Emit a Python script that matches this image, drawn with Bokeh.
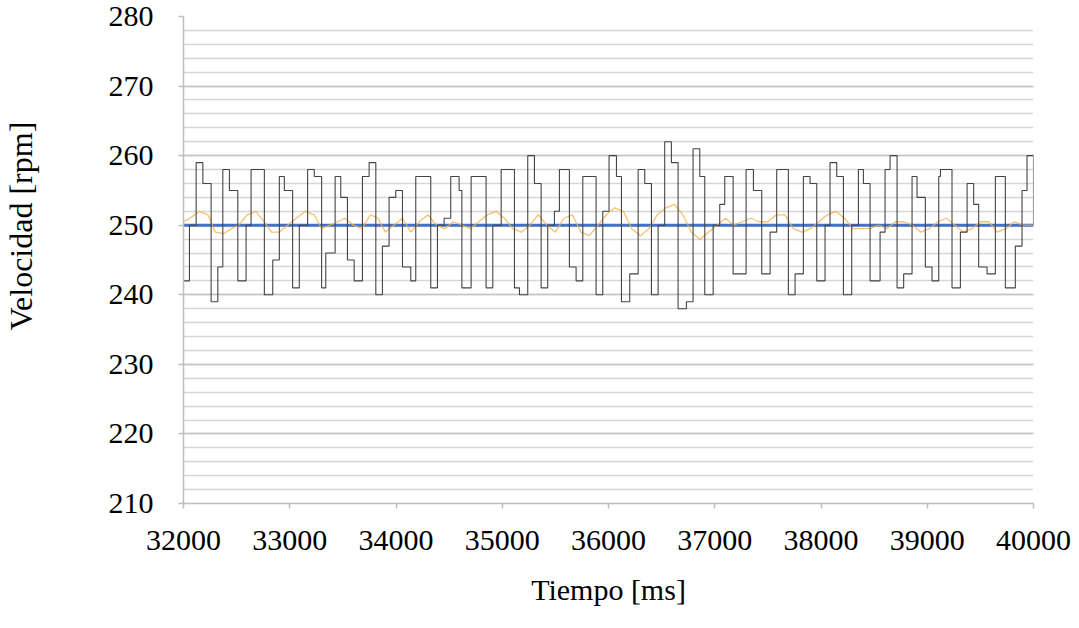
from bokeh.plotting import figure
from bokeh.models import Range1d, SingleIntervalTicker, Title
from bokeh.embed import file_html
from bokeh.resources import INLINE

# Measured speed: step changes (time in ms, rpm held until the next change)
black_t = [32000, 32056, 32119, 32182, 32260, 32323, 32370, 32432, 32511, 32589,
           32636, 32761, 32840, 32902, 32949, 33027, 33090, 33168, 33231, 33300,
           33339, 33427, 33480, 33543, 33606, 33684, 33747, 33810, 33872, 33935,
           33998, 34061, 34139, 34186, 34327, 34390, 34453, 34515, 34594, 34620,
           34707, 34848, 34911, 34990, 35115, 35162, 35240, 35303, 35366, 35428,
           35491, 35538, 35632, 35695, 35758, 35883, 35946, 36005, 36075, 36122,
           36200, 36279, 36341, 36404, 36467, 36529, 36592, 36655, 36733, 36796,
           36859, 36906, 36985, 37047, 37094, 37173, 37295, 37364, 37442, 37521,
           37583, 37693, 37756, 37834, 37897, 37960, 38038, 38085, 38148, 38211,
           38289, 38352, 38399, 38462, 38556, 38603, 38650, 38716, 38778, 38857,
           38904, 38982, 39045, 39108, 39124, 39233, 39312, 39375, 39437, 39484,
           39563, 39641, 39735, 39829, 39892, 39939, 40000]
black_v = [242, 250, 259, 256, 239, 244, 258, 255, 242, 250,
           258, 240, 245, 257, 255, 241, 250, 258, 257, 241,
           246, 257, 254, 245, 242, 257, 259, 240, 247, 254,
           255, 244, 242, 257, 241, 250, 251, 257, 255, 241,
           257, 241, 250, 258, 241, 240, 260, 256, 241, 250,
           252, 258, 244, 242, 257, 240, 252, 260, 257, 239,
           243, 258, 256, 240, 250, 262, 259, 238, 239, 261,
           257, 240, 250, 253, 257, 243, 258, 255, 243, 249,
           258, 240, 243, 257, 256, 242, 250, 259, 257, 240,
           250, 258, 256, 242, 249, 258, 260, 241, 243, 257,
           254, 244, 242, 257, 258, 241, 249, 256, 253, 244,
           243, 257, 241, 247, 255, 260, 250]

# Filtered speed estimate
orange_t = [32000, 32060, 32150, 32230, 32300, 32380, 32450, 32520, 32600, 32680,
            32760, 32830, 32900, 32980, 33060, 33150, 33230, 33300, 33380, 33450,
            33520, 33600, 33680, 33760, 33830, 33900, 33980, 34060, 34140, 34220,
            34300, 34380, 34460, 34540, 34620, 34700, 34780, 34860, 34940, 35020,
            35100, 35180, 35260, 35340, 35420, 35500, 35580, 35660, 35740, 35820,
            35900, 35980, 36060, 36140, 36220, 36300, 36380, 36460, 36540, 36620,
            36700, 36780, 36860, 36940, 37020, 37100, 37180, 37260, 37340, 37420,
            37500, 37580, 37660, 37740, 37820, 37900, 37980, 38060, 38140, 38220,
            38300, 38380, 38460, 38540, 38620, 38700, 38780, 38860, 38940, 39020,
            39100, 39180, 39260, 39340, 39420, 39500, 39580, 39660, 39740, 39820,
            39900, 40000]
orange_v = [250.5, 251, 252, 251.5, 249, 248.8, 249.5, 250, 251.5, 252,
            250.5, 249, 249, 250, 251, 252, 251.5, 249.5, 250, 250.5,
            251, 250, 249.5, 251.5, 251, 249, 250, 251, 249, 250.5,
            251.5, 250, 249.5, 250.5, 250, 249.5, 250.5, 251.5, 252, 251,
            249.5, 249, 250, 251.5, 250, 249, 251, 251.5, 249, 248.5,
            250, 251.5, 252.5, 252, 249.5, 248.5, 249.5, 251.5, 252.5, 253,
            251.5, 249, 248, 249, 250, 251, 250, 250.5, 251, 250.5,
            250.5, 251.5, 251.5, 249.5, 249, 249.5, 250.5, 251.5, 252, 251,
            249.5, 249.5, 249.5, 250, 249.5, 250.5, 250.5, 250, 249, 249.5,
            250.5, 251, 250, 249, 249.5, 250.5, 250.5, 249, 249.5, 250.5,
            250, 250]

# Reference speed
setpoint_t = [32000, 40000]
setpoint_v = [250, 250]

FONT = "Liberation Serif"

p = figure(width=1079, height=628, output_backend="svg", toolbar_location=None,
           x_range=Range1d(32000, 40000), y_range=Range1d(210, 280),
           min_border_left=183, min_border_right=46, min_border_top=16,
           min_border_bottom=125)
p.outline_line_color = None
p.background_fill_color = "white"
p.border_fill_color = "white"

p.yaxis.ticker = SingleIntervalTicker(interval=10, num_minor_ticks=5)
p.xaxis.ticker = SingleIntervalTicker(interval=1000, num_minor_ticks=0)

p.xgrid.grid_line_color = None
p.ygrid.grid_line_color = "#c4c4c4"
p.ygrid.grid_line_width = 1.5
p.ygrid.minor_grid_line_color = "#d6d6d6"
p.ygrid.minor_grid_line_width = 1.5

for ax in (p.xaxis, p.yaxis):
    ax.axis_line_color = "#bdbdbd"
    ax.axis_line_width = 1.5
    ax.major_tick_line_color = "#bdbdbd"
    ax.major_tick_line_width = 1.5
    ax.major_tick_in = 0
    ax.major_tick_out = 5
    ax.minor_tick_in = 0
    ax.minor_tick_out = 0
    ax.major_label_text_font = FONT
    ax.major_label_text_font_size = "30px"
    ax.major_label_text_color = "black"
    ax.axis_label_text_font = FONT
    ax.axis_label_text_font_size = "30px"
    ax.axis_label_text_font_style = "normal"
    ax.axis_label_text_color = "black"

p.yaxis.major_label_standoff = 25
p.xaxis.major_label_standoff = 22
p.xaxis.axis_label = "Tiempo [ms]"
p.xaxis.axis_label_standoff = 20

# A blank, tiny axis label widens the y-axis panel so the title sits further out
p.yaxis.axis_label = "\u00a0"
p.yaxis.axis_label_text_font_size = "2px"
p.yaxis.axis_label_standoff = 62

# Vertical axis title, anchored from its start so it sits above the frame centre
p.add_layout(Title(text="Velocidad [rpm]", align="left", offset=173, standoff=0,
                   text_font=FONT, text_font_size="32px",
                   text_font_style="normal", text_color="black"), "left")

p.line(setpoint_t, setpoint_v, line_color="#4472C4", line_width=3)
p.line(orange_t, orange_v, line_color="#F5B04E", line_width=1.3, line_alpha=0.8)
p.step(black_t, black_v, mode="after", line_color="#444444", line_width=1.1)

open("out.html", "w").write(file_html(p, INLINE))
